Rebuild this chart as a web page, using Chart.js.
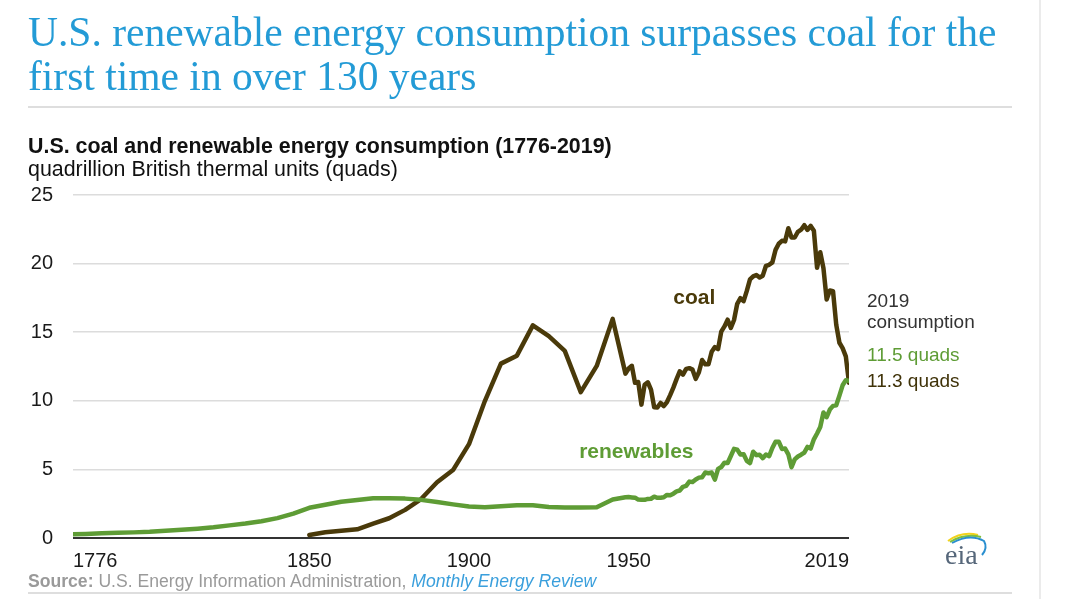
<!DOCTYPE html>
<html>
<head>
<meta charset="utf-8">
<script src="https://cdn.jsdelivr.net/npm/chart.js@4"></script>
<style>
  html, body { margin: 0; padding: 0; background: #fff; }
  body { width: 1068px; height: 599px; position: relative; overflow: hidden; font-family: "Liberation Sans", Arial, sans-serif; }
  #chart { position: absolute; left: 0; top: 0; }
  .abs { position: absolute; white-space: nowrap; }
  #title { left: 28px; top: 10px; font-family: "Liberation Serif", "Times New Roman", serif; font-size: 41.5px; line-height: 44px; color: #239bd6; }
  #sub1 { left: 28px; top: 135px; font-size: 21.4px; line-height: 23px; font-weight: bold; color: #111; }
  #sub2 { left: 28px; top: 158px; font-size: 21.4px; line-height: 23px; color: #111; }
  .note { left: 867px; font-size: 19px; line-height: 21px; }
  #source { left: 28px; top: 571px; font-size: 17.6px; line-height: 20px; color: #9a9a9a; }
  #source b { color: #9a9a9a; }
  #source i { color: #3a9fdc; }
  .hr { position: absolute; left: 28px; width: 984px; height: 2px; background: #dedede; }
  #vline { position: absolute; left: 1039px; top: 0; width: 2px; height: 599px; background: #ebebeb; }
  #logo { left: 940px; top: 528px; }
</style>
</head>
<body>
<canvas id="chart" width="1068" height="599"></canvas>
<div id="title" class="abs">U.S. renewable energy consumption surpasses coal for the<br>first time in over 130 years</div>
<div class="hr" style="top:106px"></div>
<div id="vline"></div>
<div id="sub1" class="abs">U.S. coal and renewable energy consumption (1776-2019)</div>
<div id="sub2" class="abs">quadrillion British thermal units (quads)</div>
<div class="abs note" style="top:290px;color:#333">2019</div>
<div class="abs note" style="top:311px;color:#333">consumption</div>
<div class="abs note" style="top:344px;color:#5e9c35">11.5 quads</div>
<div class="abs note" style="top:370px;color:#3f3208">11.3 quads</div>
<div id="source" class="abs"><b>Source:</b> U.S. Energy Information Administration, <i>Monthly Energy Review</i></div>
<div class="hr" style="top:592px"></div>
<div id="logo" class="abs">
  <svg width="50" height="42" viewBox="0 0 50 42">
    <path d="M8 13 Q22 3 38 7" stroke="#f2d31b" stroke-width="2" fill="none"/>
    <path d="M10 14 Q25 5 41 9" stroke="#7fbf3f" stroke-width="2" fill="none"/>
    <path d="M12 15 Q30 5 44 13 Q48 20 42 27" stroke="#2a8fd0" stroke-width="2" fill="none"/>
    <text x="5" y="36" font-family="Liberation Serif, serif" font-size="28" fill="#56677a">eia</text>
  </svg>
</div>
<script>
// x axis ticks
const xTicks = [1776, 1850, 1900, 1950, 2019];

// renewables: 5-year steps to 1945, then annual
const renewYears = [1776, 1780, 1785, 1790, 1795, 1800, 1805, 1810, 1815, 1820, 1825, 1830, 1835, 1840, 1845,
  1850, 1855, 1860, 1865, 1870, 1875, 1880, 1885, 1890, 1895, 1900, 1905, 1910, 1915, 1920, 1925, 1930, 1935, 1940, 1945,
  1949, 1950, 1951, 1952, 1953, 1954, 1955, 1956, 1957, 1958, 1959, 1960, 1961, 1962, 1963, 1964, 1965, 1966, 1967, 1968, 1969,
  1970, 1971, 1972, 1973, 1974, 1975, 1976, 1977, 1978, 1979, 1980, 1981, 1982, 1983, 1984, 1985, 1986, 1987, 1988, 1989,
  1990, 1991, 1992, 1993, 1994, 1995, 1996, 1997, 1998, 1999, 2000, 2001, 2002, 2003, 2004, 2005, 2006, 2007, 2008, 2009,
  2010, 2011, 2012, 2013, 2014, 2015, 2016, 2017, 2018, 2019];
const renewValues = [0.27, 0.30, 0.35, 0.38, 0.41, 0.45, 0.52, 0.60, 0.68, 0.78, 0.92, 1.05, 1.22, 1.45, 1.78,
  2.20, 2.42, 2.64, 2.77, 2.89, 2.90, 2.87, 2.78, 2.62, 2.45, 2.30, 2.25, 2.32, 2.38, 2.38, 2.26, 2.22, 2.22, 2.24, 2.80,
  2.97, 2.98, 2.96, 2.94, 2.80, 2.78, 2.78, 2.85, 2.86, 3.01, 2.93, 2.93, 2.97, 3.14, 3.11, 3.23, 3.40, 3.46, 3.73, 3.80, 4.11,
  4.08, 4.27, 4.40, 4.43, 4.77, 4.72, 4.77, 4.25, 5.04, 5.17, 5.49, 5.47, 5.98, 6.50, 6.44, 6.08, 6.11, 5.62, 5.46, 6.29,
  6.04, 6.07, 5.82, 6.08, 5.97, 6.56, 7.01, 7.02, 6.49, 6.52, 6.10, 5.16, 5.73, 5.94, 6.07, 6.23, 6.64, 6.52, 7.19, 7.62,
  8.09, 9.15, 8.81, 9.36, 9.63, 9.68, 10.38, 11.13, 11.50, 11.46];

// coal: from 1850
const coalYears = [1850, 1855, 1860, 1865, 1870, 1875, 1880, 1885, 1890, 1895, 1900, 1905, 1910, 1915, 1920, 1925, 1930, 1935, 1940, 1945,
  1949, 1950, 1951, 1952, 1953, 1954, 1955, 1956, 1957, 1958, 1959, 1960, 1961, 1962, 1963, 1964, 1965, 1966, 1967, 1968, 1969,
  1970, 1971, 1972, 1973, 1974, 1975, 1976, 1977, 1978, 1979, 1980, 1981, 1982, 1983, 1984, 1985, 1986, 1987, 1988, 1989,
  1990, 1991, 1992, 1993, 1994, 1995, 1996, 1997, 1998, 1999, 2000, 2001, 2002, 2003, 2004, 2005, 2006, 2007, 2008, 2009,
  2010, 2011, 2012, 2013, 2014, 2015, 2016, 2017, 2018, 2019];
const coalValues = [0.22, 0.42, 0.52, 0.63, 1.05, 1.44, 2.05, 2.84, 4.06, 4.95, 6.84, 10.00, 12.71, 13.29, 15.50, 14.71, 13.64, 10.63, 12.54, 15.97,
  11.98, 12.35, 12.55, 11.31, 11.37, 9.72, 11.17, 11.35, 10.82, 9.53, 9.52, 9.84, 9.62, 9.91, 10.41, 10.96, 11.58, 12.14, 11.91, 12.33, 12.38,
  12.27, 11.60, 12.08, 12.97, 12.66, 12.66, 13.58, 13.92, 13.77, 15.04, 15.42, 15.91, 15.32, 15.89, 17.07, 17.48, 17.26, 18.01, 18.85, 19.07,
  19.17, 18.99, 19.12, 19.84, 19.91, 20.09, 21.00, 21.45, 21.66, 21.62, 22.58, 21.91, 21.90, 22.32, 22.47, 22.80, 22.45, 22.75, 22.39, 19.69,
  20.83, 19.66, 17.38, 18.04, 17.99, 15.55, 14.23, 13.84, 13.24, 11.32];

const coalColor = "#4a3a0a";
const renewColor = "#5e9c35";

// series labels placed in data coordinates
const seriesLabels = [
  { text: "coal", x: 1964, y: 17.05, color: coalColor },
  { text: "renewables", x: 1934.5, y: 5.8, color: renewColor }
];

const labelPlugin = {
  id: "seriesLabels",
  afterDatasetsDraw(chart) {
    const { ctx, scales } = chart;
    ctx.save();
    ctx.font = "bold 21px 'Liberation Sans', Arial, sans-serif";
    ctx.textAlign = "left";
    ctx.textBaseline = "alphabetic";
    seriesLabels.forEach(l => {
      ctx.fillStyle = l.color;
      ctx.fillText(l.text, scales.x.getPixelForValue(l.x), scales.y.getPixelForValue(l.y));
    });
    ctx.restore();
  }
};

const tickFont = { family: "'Liberation Sans', Arial, sans-serif", size: 20 };

new Chart(document.getElementById("chart").getContext("2d"), {
  type: "line",
  data: {
    datasets: [
      {
        label: "renewables",
        data: renewYears.map((yr, i) => ({ x: yr, y: renewValues[i] })),
        borderColor: renewColor,
        borderWidth: 4.5,
        pointRadius: 0,
        tension: 0,
        borderJoinStyle: "round",
        borderCapStyle: "round"
      },
      {
        label: "coal",
        data: coalYears.map((yr, i) => ({ x: yr, y: coalValues[i] })),
        borderColor: coalColor,
        borderWidth: 4.5,
        pointRadius: 0,
        tension: 0,
        borderJoinStyle: "round",
        borderCapStyle: "round"
      }
    ]
  },
  options: {
    responsive: false,
    animation: false,
    layout: { padding: { top: 195, right: 1068 - 849, bottom: 0, left: 0 } },
    plugins: { legend: { display: false }, tooltip: { enabled: false } },
    scales: {
      x: {
        type: "linear",
        min: 1776,
        max: 2019,
        afterBuildTicks: s => { s.ticks = xTicks.map(v => ({ value: v })); },
        afterFit: s => { s.height = 61; },
        grid: { display: false },
        border: { display: false },
        ticks: {
          align: "inner",
          padding: 3,
          autoSkip: false,
          maxRotation: 0,
          color: "#1a1a1a",
          font: tickFont,
          callback: v => String(v)
        }
      },
      y: {
        min: 0,
        max: 25,
        afterFit: s => { s.width = 73; },
        border: { display: false },
        grid: {
          drawTicks: false,
          color: c => c.tick.value === 0 ? "#333" : "#dcdcdc",
          lineWidth: c => c.tick.value === 0 ? 2 : 1.5
        },
        ticks: { stepSize: 5, padding: 20, color: "#1a1a1a", font: tickFont }
      }
    }
  },
  plugins: [labelPlugin]
});
</script>
</body>
</html>
